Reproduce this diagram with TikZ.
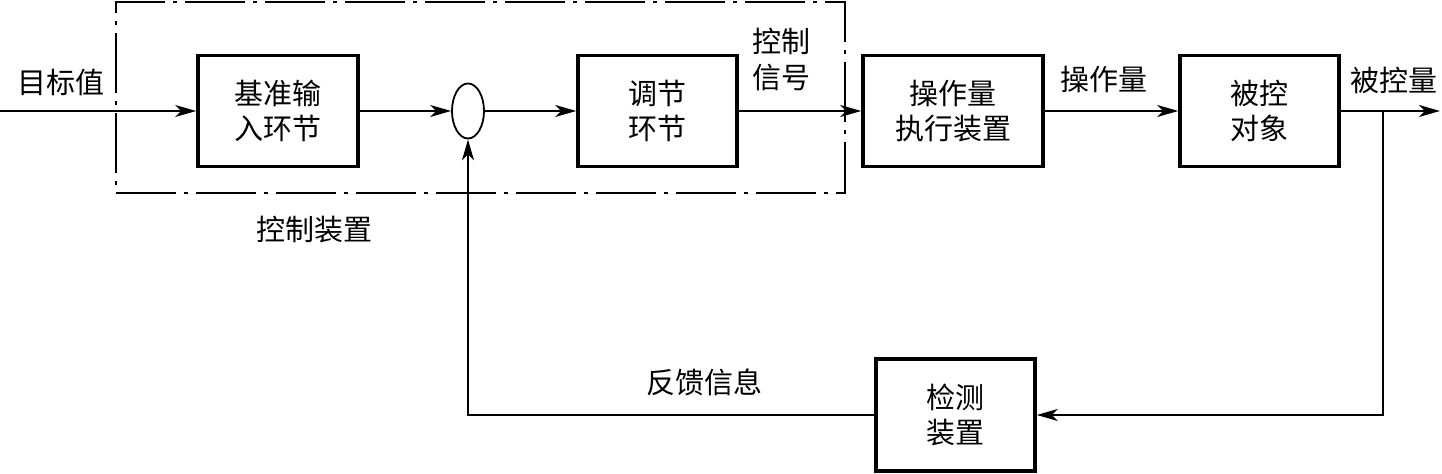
\documentclass[tikz,border=0pt]{standalone}
\usepackage{fontspec}
\setmainfont{Noto Sans CJK SC}
\usetikzlibrary{arrows.meta,shapes.geometric}
\begin{document}
\begin{tikzpicture}[x=0.5pt,y=-0.5pt,
  font=\fontsize{14.5}{17.5}\selectfont,
  blk/.style={draw,line width=1.8pt,minimum height=55.5pt,align=center,inner sep=0pt},
  conn/.style={line width=0.9pt,-{Stealth[length=10.5pt,width=6pt,inset=3pt]}},
  dashdotbox/.style={draw,line width=0.8pt,dash pattern=on 30pt off 4pt on 2pt off 4pt,inner sep=0pt},
  lbl/.style={align=center,inner sep=0pt}]
\useasboundingbox (0,0) rectangle (1442,474);
% control device frame
\node[dashdotbox,minimum width=364.5pt,minimum height=95.5pt] (ctrl) at (480.5,97.5) {};
% blocks
\node[blk,minimum width=80pt] (b1) at (278,111) {基准输\\入环节};
\node[draw,ellipse,line width=0.9pt,minimum width=16pt,minimum height=27.5pt,inner sep=0pt] (sum) at (468,111) {};
\node[blk,minimum width=79.5pt] (b2) at (657.5,111) {调节\\环节};
\node[blk,minimum width=90pt] (b3) at (953,111) {操作量\\执行装置};
\node[blk,minimum width=79.5pt] (b4) at (1259.5,111) {被控\\对象};
\node[blk,minimum width=79.5pt,minimum height=56pt] (b5) at (955.5,415) {检测\\装置};
% labels
\node[lbl] (l1) at (61,82) {目标值};
\node[lbl] (l2) at (314,230) {控制装置};
\node[lbl,font=\fontsize{14.5}{18}\selectfont] (l3) at (781,60) {控制\\信号};
\node[lbl] (l4) at (1104,80) {操作量};
\node[lbl] (l5) at (1394,80) {被控量};
\node[lbl] (l6) at (704,382) {反馈信息};
% coordinates
\coordinate (in) at (0,111);
\coordinate (out) at (1440,111);
\coordinate (br) at (1383,111);
% connectors
\draw[conn] (in) -- (b1);
\draw[conn] (b1) -- (sum);
\draw[conn] (sum) -- (b2);
\draw[conn] (b2) -- (b3);
\draw[conn] (b3) -- (b4);
\draw[conn] (b4) -- (out);
\draw[conn] (br) |- (b5.east);
\draw[conn] (b5.west) -| (sum.south);
\end{tikzpicture}
\end{document}
